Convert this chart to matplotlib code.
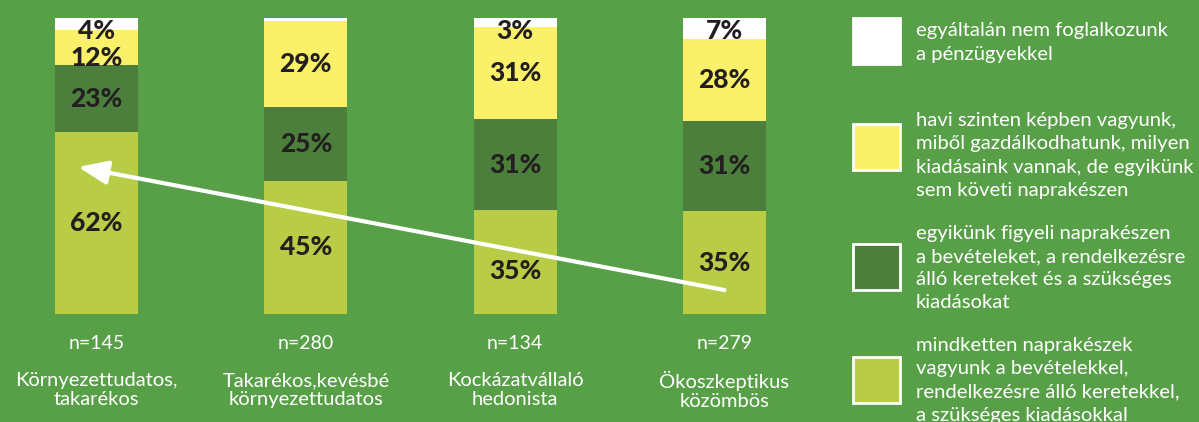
import numpy as np
import matplotlib.pyplot as plt
from matplotlib.patches import Rectangle

plt.rcParams['font.family'] = ['Lato', 'DejaVu Sans']

# adatok
kategoriak = ['Környezettudatos,\ntakarékos', 'Takarékos,kevésbé\nkörnyezettudatos',
              'Kockázatvállaló\nhedonista', 'Ökoszkeptikus\nközömbös']
n_ertekek = [145, 280, 134, 279]

mindketten = [62, 45, 35, 35]
egyikunk = [23, 25, 31, 31]
havi = [12, 29, 31, 28]
egyaltalan = [4, 1, 3, 7]
egyaltalan_cimke = ['4%', '', '3%', '7%']

jelmagyarazat = [
    'egyáltalán nem foglalkozunk\na pénzügyekkel',
    'havi szinten képben vagyunk,\nmiből gazdálkodhatunk, milyen\nkiadásaink vannak, de egyikünk\nsem követi naprakészen',
    'egyikünk figyeli naprakészen\na bevételeket, a rendelkezésre\nálló kereteket és a szükséges\nkiadásokat',
    'mindketten naprakészek\nvagyunk a bevételekkel,\nrendelkezésre álló keretekkel,\na szükséges kiadásokkal',
]

hatter = '#58a048'
szinek = ['#ffffff', '#fbf06a', '#4b7f3b', '#b8cc45']
szoveg_szin = '#231f20'

fig = plt.figure(figsize=(11.99, 4.22), dpi=100, facecolor=hatter)
W, H = 1199, 422
ax = fig.add_axes([0, 1 - 314 / H, 840 / W, 296 / H])
ax.set_facecolor(hatter)
ax.axis('off')

x = np.arange(len(kategoriak))
retegek = [mindketten, egyikunk, havi, egyaltalan]
osszeg = np.sum(retegek, axis=0)
retegek_norm = [np.array(r) / osszeg * 100 for r in retegek]
reteg_szinek = [szinek[3], szinek[2], szinek[1], szinek[0]]
cimkek = [[f'{v}%' for v in mindketten], [f'{v}%' for v in egyikunk],
          [f'{v}%' for v in havi], egyaltalan_cimke]

szelesseg = 0.397
alja = np.zeros(len(x))
for k, (r, sz, cim) in enumerate(zip(retegek_norm, reteg_szinek, cimkek)):
    ax.bar(x, r, szelesseg, bottom=alja, color=sz, edgecolor='none')
    for i in range(len(x)):
        if not cim[i]:
            continue
        y = alja[i] + r[i] / 2
        if k == 3:
            y = 95.6          # a felső kis címkék lejjebb csúsznak
        elif r[i] < 15:
            y -= 3.5
        elif k == 0 and i == 2:
            y -= 3            # a nyíl alá
        ax.text(x[i], y, cim[i], ha='center', va='center',
                fontsize=19, fontweight='black', color=szoveg_szin)
    alja += r

ax.set_xlim((0 - 96.5) / 209.33, (840 - 96.5) / 209.33)
ax.set_ylim(0, 100)

# n és kategórianevek
for i in range(len(x)):
    ax.text(x[i], -9.8, f'n={n_ertekek[i]}', ha='center', va='center',
            fontsize=14, color='white', clip_on=False)
    ax.text(x[i], -25.8, kategoriak[i], ha='center', va='center',
            fontsize=14.5, color='white', linespacing=1.15, clip_on=False)

# nyíl
ax.annotate('', xy=(-0.088, 49.7), xytext=(3.0, 8.1),
            arrowprops=dict(arrowstyle='-|>,head_length=1.8,head_width=0.72',
                            color='white', lw=3, shrinkA=0, shrinkB=0),
            annotation_clip=False)

# jelmagyarázat
negyzet_kozep = [41, 147, 267, 380]
szoveg_kozep = [42.5, 155.5, 268, 380.5]
for sz, yk, ys, t in zip(szinek, negyzet_kozep, szoveg_kozep, jelmagyarazat):
    fig.patches.append(Rectangle((853 / W, 1 - (yk + 23) / H), 47 / W, 46 / H,
                                 transform=fig.transFigure, facecolor=sz,
                                 edgecolor='white', lw=2))
    fig.text(916 / W, 1 - ys / H, t, ha='left', va='center', fontsize=14.6,
             color='white', linespacing=1.44)

fig.savefig('out.png', dpi=100, facecolor=hatter)
